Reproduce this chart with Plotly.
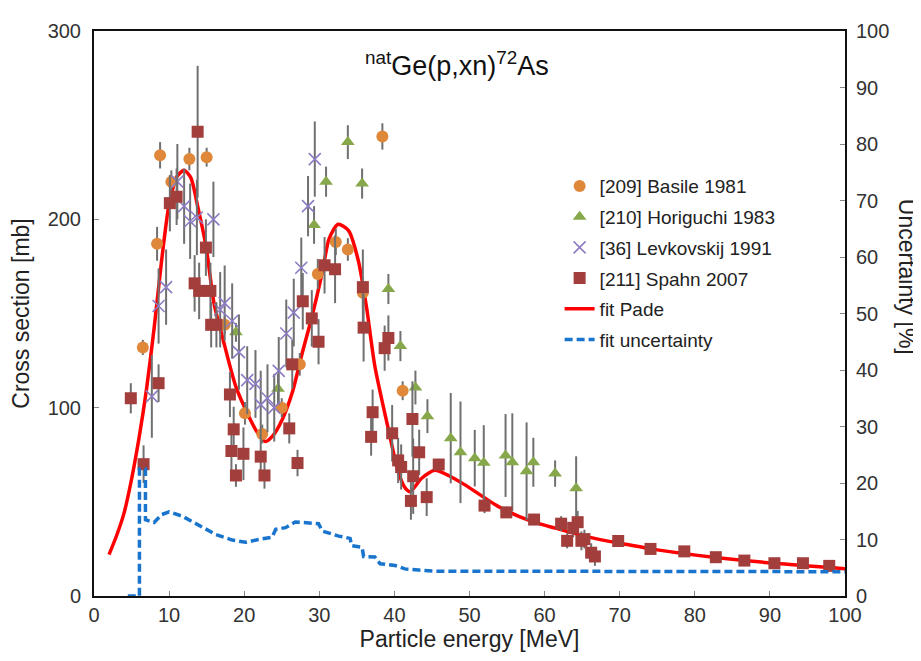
import plotly.graph_objects as go

# ---------------- data ----------------
basile_x = [6.5, 8.4, 8.8, 10.3, 12.7, 15.0, 17.4, 20.1, 22.4, 25.0, 27.4, 29.8, 32.2, 33.8, 35.8, 38.4, 41.1]
basile_y = [132, 187, 234, 220, 232, 233, 144, 97, 86, 100, 123, 171, 188, 184, 161, 244, 109]
basile_e = [4, 9, 7, 6, 6, 5, 5, 6, 5, 5, 6, 8, 7, 6, 8, 7, 5]

horiguchi_x = [18.9, 24.5, 29.3, 30.9, 33.8, 35.7, 39.2, 40.8, 42.8, 44.4, 47.5, 48.8, 50.7, 51.9, 54.8, 55.7, 57.6, 58.5, 61.4, 64.2]
horiguchi_y = [140, 110, 197, 220, 241, 219, 163, 132.7, 110.7, 95.5, 83.8, 76.3, 73.2, 70.7, 74.6, 71, 66.2, 71, 65, 57.2]
horiguchi_e = [5, 8, 10, 8, 9, 8, 8, 8, 9, 9, 24, 27, 15, 20, 22, 26, 26, 13, 7, 17]

levk_x = [7.7, 8.6, 9.6, 11.1, 12.0, 12.8, 13.7, 15.9, 16.8, 17.4, 18.4, 19.3, 20.4, 21.5, 22.2, 23.1, 24.0, 24.6, 25.6, 26.6, 27.6, 28.5, 29.4]
levk_y = [106, 154, 164, 220, 207, 199, 201, 200, 152, 155.5, 146, 129.5, 114.6, 112.6, 101.6, 105, 100, 119.5, 139.4, 150.5, 174.3, 207, 232]
levk_e = [22, 20, 20, 20, 20, 20, 20, 20, 20, 20, 20, 20, 18, 18, 18, 18, 18, 18, 18, 18, 16, 16, 20]

spahn_x = [4.9, 6.6, 8.6, 10.1, 11.0, 13.8, 14.9, 13.4, 14.0, 15.5, 15.6, 16.3, 18.1, 18.6, 18.3, 18.9,
           19.9, 22.2, 22.7, 26.0, 26.4, 27.1, 27.8, 29.0, 29.9, 30.7, 32.1, 35.8, 35.9, 36.9, 37.1,
           38.7, 39.2, 39.7, 40.5, 40.9, 42.2, 42.4, 42.5, 43.3, 44.3, 45.9, 52.0, 54.9, 58.6, 62.2,
           63.0, 63.8, 64.4, 64.9, 65.3, 66.2, 66.7, 69.8, 74.1, 78.6, 82.8, 86.6, 90.6, 94.4, 97.9]
spahn_y = [105, 70, 113, 208.6, 212, 246.5, 185, 166, 162, 162, 144, 144, 107, 88.5, 77, 64,
           75.5, 74, 64, 89, 123, 70.6, 156.5, 147.4, 135, 175.6, 173.5, 164, 142.5, 84.5, 97.6,
           131.6, 137, 86.4, 72, 68.5, 50.5, 94, 63.6, 76.3, 52.5, 69.8, 48, 44.4, 40.6, 38.4,
           29.3, 36.2, 39.2, 29.3, 30.2, 23, 21, 29.2, 25, 23.7, 20.6, 18.8, 17.4, 17.4, 16]
spahn_e = [8, 10, 10, 15, 15, 35, 15, 15, 15, 15, 12, 12, 12, 12, 12, 6,
           14, 10, 7, 8, 13, 7, 15, 15, 12, 15, 18, 20, 18, 10, 12,
           12, 12, 15, 12, 12, 10, 20, 20, 12, 10, 3, 4, 3, 3, 4,
           4, 5, 6, 5, 5, 5, 5, 2, 2, 2, 2, 2, 2, 2, 2]

fit_x = [2.0, 3.0, 4.0, 5.0, 6.0, 7.0, 8.0, 9.0, 10.0, 11.1, 12.0, 12.9, 13.8, 14.9, 16.0, 17.1,
         18.9, 20.6, 21.8, 22.8, 23.8, 25.1, 26.4, 27.7, 29.0, 30.4, 31.3, 32.5, 33.9, 35.2,
         36.3, 37.4, 39.2, 40.5, 41.5, 42.1, 43.6, 45.4, 47.2, 49.4, 53.8, 58.2, 63.1, 67.1, 71.0,
         75.0, 82.5, 91.4, 100.0]
fit_y = [22, 32, 44, 62, 84, 110, 142, 178, 208, 223, 226, 222, 207, 186, 155, 137.5,
         111, 95.5, 86.5, 82, 85, 94, 108, 128.6, 148, 172, 189.6, 197.4, 194, 178,
         153, 122, 88.5, 66, 57, 55.4, 62.4, 66.8, 64, 59, 47.6, 39.7, 34.2, 30.2, 27.3,
         24.5, 20.6, 17.1, 14.5]

unc_x = [4.5, 6.05, 6.05, 6.85, 6.85, 8.0, 9.0, 10.0, 11.8, 14.0, 16.2, 18.4, 20.2, 21.9, 23.7,
         24.2, 25.5, 26.8, 28.6, 29.9, 30.4, 32.6, 34.1, 34.3, 35.7, 35.9, 37.4, 38.1, 40.1, 41.4,
         43.2, 45.4, 100.0]
unc_y = [0, 0, 22.5, 22.5, 13.5, 13.0, 14.4, 14.9, 14.1, 12.5, 10.9, 9.9, 9.5, 10.0, 10.4,
         11.8, 12.1, 13.1, 12.9, 12.8, 11.5, 10.6, 10.2, 8.9, 8.6, 7.0, 6.9, 5.7, 5.4, 4.8,
         4.6, 4.4, 4.3]

x_ticks = list(range(0, 101, 10))
y_ticks = [0, 100, 200, 300]
y2_ticks = list(range(0, 101, 10))

FONT = "Liberation Sans, Arial, sans-serif"
ERR = dict(type="data", color="#707070", thickness=2, width=0)

fig = go.Figure()

fig.add_trace(go.Scatter(x=fit_x, y=fit_y, mode="lines", name="fit Pade",
                         line=dict(color="#ff0000", width=3.5, shape="spline", smoothing=0.7),
                         legendrank=5, legendgroup="f"))

fig.add_trace(go.Scatter(x=basile_x, y=basile_y, mode="markers", name="[209] Basile 1981",
                         marker=dict(symbol="circle", size=12, color="#e0883a"),
                         error_y=dict(array=basile_e, **ERR), legendrank=1, legendgroup="a"))
fig.add_trace(go.Scatter(x=horiguchi_x, y=horiguchi_y, mode="markers", name="[210] Horiguchi 1983",
                         marker=dict(symbol="triangle-up", size=12, color="#86a84a"),
                         error_y=dict(array=horiguchi_e, **ERR), legendrank=2, legendgroup="b"))
fig.add_trace(go.Scatter(x=levk_x, y=levk_y, mode="markers", name="[36] Levkovskij 1991",
                         marker=dict(symbol="x-thin-open", size=12, color="#8e7cc3",
                                     line=dict(color="#8e7cc3", width=1.6)),
                         error_y=dict(array=levk_e, **ERR), legendrank=3, legendgroup="c"))
fig.add_trace(go.Scatter(x=spahn_x, y=spahn_y, mode="markers", name="[211] Spahn 2007",
                         marker=dict(symbol="square", size=12, color="#a23e3c"),
                         error_y=dict(array=spahn_e, **ERR), legendrank=4, legendgroup="d"))

fig.add_trace(go.Scatter(x=unc_x, y=unc_y, mode="lines", name="fit uncertainty", yaxis="y2",
                         line=dict(color="#1874cd", width=3.5, dash="8px,4px"),
                         legendrank=6, legendgroup="g"))

axis_common = dict(showgrid=False, zeroline=False, showline=True, linecolor="#111",
                   linewidth=2, ticks="inside", ticklen=5, tickcolor="#888", tickwidth=1,
                   tickfont=dict(family=FONT, size=20, color="#333"))

# page body has an 8px margin: figure is sized/offset so the plot area lands at
# x 91..845, y 22..596 in the 921x661 window
fig.update_layout(
    width=913, height=653,
    margin=dict(l=83, r=76, t=14, b=65),
    paper_bgcolor="white", plot_bgcolor="white",
    font=dict(family=FONT, color="#222"),
    xaxis=dict(range=[0, 100], tickvals=x_ticks, mirror=True,
               title=dict(text="Particle energy [MeV]", font=dict(size=23, color="#222"), standoff=4),
               **axis_common),
    yaxis=dict(range=[0, 300], tickvals=y_ticks, ticklabelstandoff=7,
               title=dict(text="Cross section [mb]", font=dict(size=23, color="#222"), standoff=12),
               **axis_common),
    yaxis2=dict(range=[0, 100], tickvals=y2_ticks, overlaying="y", side="right",
                ticklabelstandoff=5, **axis_common),
    legend=dict(x=0.62, y=0.759, xanchor="left", yanchor="top", bgcolor="rgba(0,0,0,0)",
                font=dict(family=FONT, size=19, color="#222"), tracegroupgap=3,
                itemwidth=30),
    showlegend=True,
    annotations=[
        dict(text="<sup>nat</sup>Ge(p,xn)<sup>72</sup>As", xref="paper", yref="paper",
             x=0.483, y=0.975, showarrow=False, font=dict(family=FONT, size=27, color="#111")),
        dict(text="Uncertainty [%]", xref="paper", yref="paper", x=1, xanchor="center",
             xshift=62, y=0.565, textangle=90, showarrow=False,
             font=dict(family=FONT, size=23, color="#222")),
    ],
)

fig.write_html("out.html")
